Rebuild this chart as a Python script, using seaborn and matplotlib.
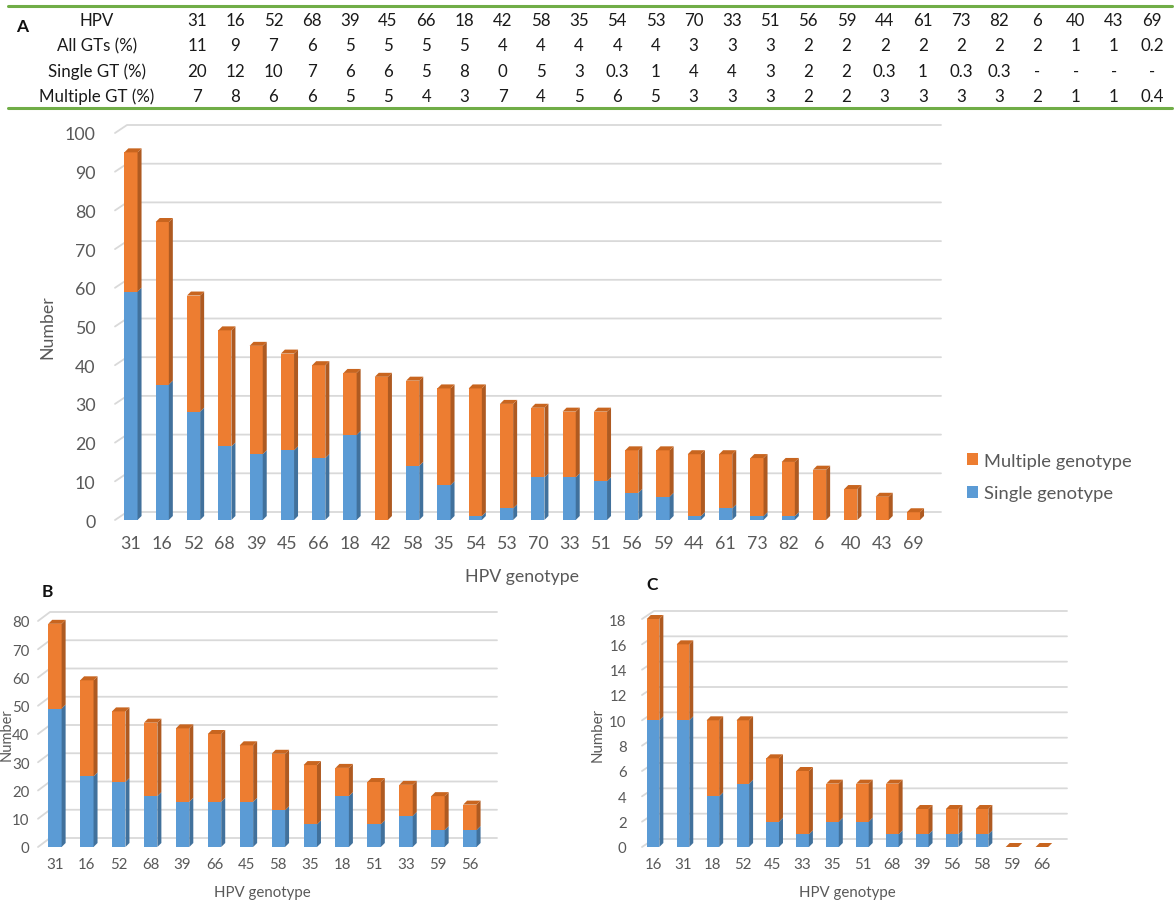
import numpy as np
import pandas as pd
import matplotlib
matplotlib.use("Agg")
import matplotlib.pyplot as plt
import seaborn as sns
from matplotlib.patches import Polygon, Patch
from matplotlib.lines import Line2D

# ---------------- data ----------------
# Table (panel A header)
table_hpv = ["31", "16", "52", "68", "39", "45", "66", "18", "42", "58", "35", "54", "53",
             "70", "33", "51", "56", "59", "44", "61", "73", "82", "6", "40", "43", "69"]
table_all = ["11", "9", "7", "6", "5", "5", "5", "5", "4", "4", "4", "4", "4",
             "3", "3", "3", "2", "2", "2", "2", "2", "2", "2", "1", "1", "0.2"]
table_single = ["20", "12", "10", "7", "6", "6", "5", "8", "0", "5", "3", "0.3", "1",
                "4", "4", "3", "2", "2", "0.3", "1", "0.3", "0.3", "-", "-", "-", "-"]
table_multi = ["7", "8", "6", "6", "5", "5", "4", "3", "7", "4", "5", "6", "5",
               "3", "3", "3", "2", "2", "3", "3", "3", "3", "2", "1", "1", "0.4"]
table_rows = ["HPV", "All GTs (%)", "Single GT (%)", "Multiple GT (%)"]

# Panel A
a_types = ["31", "16", "52", "68", "39", "45", "66", "18", "42", "58", "35", "54", "53",
           "70", "33", "51", "56", "59", "44", "61", "73", "82", "6", "40", "43", "69"]
a_total = [95, 77, 58, 49, 45, 43, 40, 38, 37, 36, 34, 34, 30,
           29, 28, 28, 18, 18, 17, 17, 16, 15, 13, 8, 6, 2]
a_single = [59, 35, 28, 19, 17, 18, 16, 22, 0, 14, 9, 1, 3,
            11, 11, 10, 7, 6, 1, 3, 1, 1, 0, 0, 0, 0]

# Panel B
b_types = ["31", "16", "52", "68", "39", "66", "45", "58", "35", "18", "51", "33", "59", "56"]
b_total = [79, 59, 48, 44, 42, 40, 36, 33, 29, 28, 23, 22, 18, 15]
b_single = [49, 25, 23, 18, 16, 16, 16, 13, 8, 18, 8, 11, 6, 6]

# Panel C
c_types = ["16", "31", "18", "52", "45", "33", "35", "51", "68", "39", "56", "58", "59", "66"]
c_total = [18, 16, 10, 10, 7, 6, 5, 5, 5, 3, 3, 3, 0, 0]
c_single = [10, 10, 4, 5, 2, 1, 2, 2, 1, 1, 1, 1, 0, 0]

series_labels = ["Multiple genotype", "Single genotype"]

# ---------------- style ----------------
W, H = 1176, 903
sns.set_theme(style="white")
plt.rcParams['font.family'] = ['Lato', 'DejaVu Sans']

BLUE = "#5B9BD5"
ORANGE = "#ED7D31"
BLUE_SIDE = "#41719C"
BLUE_TOP = "#4A80B8"
ORANGE_SIDE = "#AE5A21"
ORANGE_TOP = "#C8651F"
GRID = "#D9D9D9"
TXT = "#595959"
GREEN = "#70AD47"

fig = plt.figure(figsize=(W / 100, H / 100), dpi=100)
fig.patch.set_facecolor("white")


def px_axes(left, right, top, bottom):
    return fig.add_axes([left / W, 1 - bottom / H, (right - left) / W, (bottom - top) / H])


def ftext(x, y, s, **kw):
    return fig.text(x / W, 1 - y / H, s, **kw)


def draw_panel(ax, cats, total, single, ymax, step, xlim, ax_px, fs_tick,
               ypad, xpad, grid_dx=12, grid_dy=8, depth=4, width=0.42):
    df = pd.DataFrame({"genotype": cats, "total": total, "single": single})
    sns.barplot(data=df, x="genotype", y="total", order=cats, color=ORANGE,
                width=width, saturation=1, ax=ax, zorder=3, linewidth=0)
    n_or = len(ax.patches)
    sns.barplot(data=df, x="genotype", y="single", order=cats, color=BLUE,
                width=width, saturation=1, ax=ax, zorder=4, linewidth=0)
    ax.set_xlim(*xlim)
    ax.set_ylim(0, ymax)
    wpx = ax_px[1] - ax_px[0]
    hpx = ax_px[3] - ax_px[2]
    ux = (xlim[1] - xlim[0]) / wpx   # data per pixel (x)
    uy = ymax / hpx                  # data per pixel (y)
    dx, dy = depth * ux, depth * uy

    or_patches = ax.patches[:n_or]
    bl_patches = ax.patches[n_or:]
    for po, pb in zip(or_patches, bl_patches):
        x0 = po.get_x()
        x1 = x0 + po.get_width()
        t = po.get_height()
        s = pb.get_height()
        if s > 0:
            ax.add_patch(Polygon([(x1, 0), (x1 + dx, dy), (x1 + dx, s + dy), (x1, s)],
                                 closed=True, facecolor=BLUE_SIDE, edgecolor="none",
                                 zorder=5, clip_on=False))
        if t > s:
            ax.add_patch(Polygon([(x1, s), (x1 + dx, s + dy), (x1 + dx, t + dy), (x1, t)],
                                 closed=True, facecolor=ORANGE_SIDE, edgecolor="none",
                                 zorder=5, clip_on=False))
        topc = ORANGE_TOP if (t > s or t == 0) else BLUE_TOP
        ax.add_patch(Polygon([(x0, t), (x0 + dx, t + dy), (x1 + dx, t + dy), (x1, t)],
                             closed=True, facecolor=topc, edgecolor="none",
                             zorder=5, clip_on=False))

    ticks = np.arange(0, ymax + step / 2, step)
    gdx, gdy = grid_dx * ux, grid_dy * uy
    for tv in ticks:
        ax.add_line(Line2D([xlim[0], xlim[0] + gdx, xlim[1]], [tv, tv + gdy, tv + gdy],
                           color=GRID, lw=1.3, zorder=1, clip_on=False))
    ax.set_yticks(ticks)
    ax.set_yticklabels([f"{int(v)}" for v in ticks])
    ax.grid(False)
    for sp in ax.spines.values():
        sp.set_visible(False)
    ax.set_facecolor("none")
    ax.set_xlabel("")
    ax.set_ylabel("")
    ax.tick_params(axis="y", length=0, pad=ypad, labelsize=fs_tick, labelcolor=TXT)
    ax.tick_params(axis="x", length=0, pad=xpad, labelsize=fs_tick, labelcolor=TXT)


# ---------------- table ----------------
for yl in (7, 109):
    fig.add_artist(Line2D([8 / W, 1172 / W], [1 - yl / H, 1 - yl / H],
                          color=GREEN, lw=2.2, transform=fig.transFigure))
ftext(22, 27, "A", fontsize=12.5, fontweight="bold", ha="center", va="center", color="#111111")
row_y = [21, 46, 72, 97]
rows_vals = [table_hpv, table_all, table_single, table_multi]
col_x0, col_step = 197, 38.2
for ry, lab, vals in zip(row_y, table_rows, rows_vals):
    ftext(97, ry, lab, fontsize=12.2, ha="center", va="center", color="#1a1a1a")
    for i, v in enumerate(vals):
        ftext(col_x0 + i * col_step, ry, v, fontsize=12.2, ha="center", va="center",
              color="#1a1a1a")

# ---------------- panel A ----------------
axA_px = (115, 941, 134, 521)
axA = px_axes(*axA_px)
draw_panel(axA, a_types, a_total, a_single, 100, 10, (-0.51, 25.88), axA_px,
           fs_tick=12.8, ypad=14, xpad=11)
ftext(47, 327, "Number", rotation=90, fontsize=12.8, ha="center", va="center", color=TXT)
ftext(522, 577, "HPV genotype", fontsize=12.8, ha="center", va="center", color=TXT)
fig.legend(handles=[Patch(facecolor=ORANGE, edgecolor="none", label=series_labels[0]),
                    Patch(facecolor=BLUE, edgecolor="none", label=series_labels[1])],
           loc="center left", bbox_to_anchor=(950 / W, 1 - 478 / H),
           bbox_transform=fig.transFigure, frameon=False, fontsize=13.2,
           handlelength=0.65, handleheight=0.65, handletextpad=0.3,
           labelspacing=0.9, labelcolor=TXT)

# ---------------- panel B ----------------
axB_px = (38, 497, 622, 848)
axB = px_axes(*axB_px)
draw_panel(axB, b_types, b_total, b_single, 80, 10, (-0.53, 13.85), axB_px,
           fs_tick=10.8, ypad=6, xpad=7, grid_dy=9)
ftext(47, 592, "B", fontsize=12.5, fontweight="bold", ha="center", va="center", color="#111111")
ftext(262, 893, "HPV genotype", fontsize=10.8, ha="center", va="center", color=TXT)
ftext(7, 735, "Number", rotation=90, fontsize=10.5, ha="center", va="center", color=TXT)

# ---------------- panel C ----------------
axC_px = (642, 1067, 620, 848)
axC = px_axes(*axC_px)
draw_panel(axC, c_types, c_total, c_single, 18, 2, (-0.37, 13.84), axC_px,
           fs_tick=10.8, ypad=11, xpad=7)
ftext(652, 585, "C", fontsize=12.5, fontweight="bold", ha="center", va="center", color="#111111")
ftext(847, 893, "HPV genotype", fontsize=10.8, ha="center", va="center", color=TXT)
ftext(598, 735, "Number", rotation=90, fontsize=10.8, ha="center", va="center", color=TXT)

fig.savefig("out.png", dpi=100, facecolor="white")
